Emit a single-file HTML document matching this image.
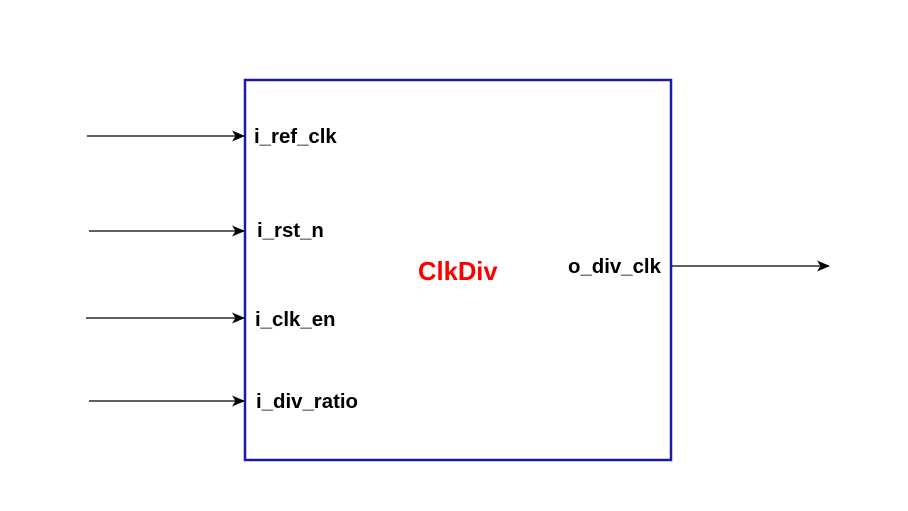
<!DOCTYPE html>
<html><head><style>
html,body{margin:0;padding:0;background:#fff;width:908px;height:511px;overflow:hidden}
text{font-family:"Liberation Sans",Arial,sans-serif;font-weight:bold}
</style></head><body>
<svg width="908" height="511" viewBox="0 0 908 511" xmlns="http://www.w3.org/2000/svg">
<defs><marker id="a" markerWidth="13" markerHeight="11" refX="12" refY="5.5" orient="auto" markerUnits="userSpaceOnUse"><path d="M0,0 L13,5.5 L0,11 L3.5,5.5 Z" fill="#000"/></marker></defs>
<rect x="245" y="80" width="426" height="380" fill="#fff" stroke="#1a1aa8" stroke-width="2.5"/>
<g stroke="#000" stroke-width="1.3" marker-end="url(#a)">
<line x1="87" y1="136" x2="244" y2="136"/>
<line x1="89" y1="231" x2="244" y2="231"/>
<line x1="86" y1="318" x2="244" y2="318"/>
<line x1="89" y1="401" x2="244" y2="401"/>
<line x1="672" y1="266" x2="829" y2="266"/>
</g>
<g font-size="20.4" fill="#000">
<text x="254" y="143">i_ref_clk</text>
<text x="257" y="237">i_rst_n</text>
<text x="255" y="326">i_clk_en</text>
<text x="256" y="408">i_div_ratio</text>
<text x="568" y="273">o_div_clk</text>
</g>
<text x="418" y="280" font-size="25.6" fill="#ff0000">ClkDiv</text>
</svg>
</body></html>
